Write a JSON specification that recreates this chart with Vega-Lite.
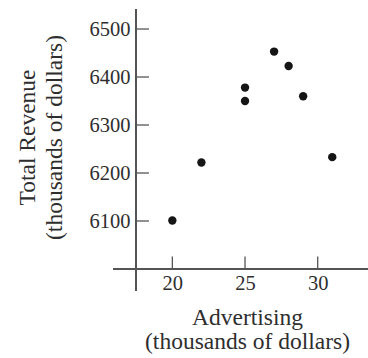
{
  "$schema": "https://vega.github.io/schema/vega-lite/v6.json",
  "width": 232,
  "height": 260,
  "autosize": {"type": "none"},
  "padding": {"left": 136, "top": 9, "right": 0, "bottom": 89},
  "config": {
    "view": {"stroke": null},
    "font": "Liberation Serif",
    "axis": {
      "grid": false,
      "domain": false,
      "ticks": false,
      "labelFont": "Liberation Serif",
      "labelFontSize": 20.5,
      "labelColor": "#2e2e2e",
      "titleFont": "Liberation Serif",
      "titleFontSize": 23.5,
      "titleFontWeight": "normal",
      "titleColor": "#2e2e2e"
    }
  },
  "datasets": {
    "points": [
      {"advertising": 20, "revenue": 6101},
      {"advertising": 22, "revenue": 6222},
      {"advertising": 25, "revenue": 6378},
      {"advertising": 25, "revenue": 6350},
      {"advertising": 27, "revenue": 6453},
      {"advertising": 28, "revenue": 6423},
      {"advertising": 29, "revenue": 6360},
      {"advertising": 31, "revenue": 6233}
    ],
    "xticks": [{"advertising": 20}, {"advertising": 25}, {"advertising": 30}],
    "yticks": [{"revenue": 6100}, {"revenue": 6200}, {"revenue": 6300}, {"revenue": 6400}, {"revenue": 6500}]
  },
  "layer": [
    {
      "data": {"name": "points"},
      "mark": {"type": "rule", "color": "#555555", "strokeWidth": 1.3},
      "encoding": {
        "x": {"datum": 15.92, "type": "quantitative"},
        "x2": {"datum": 33.46},
        "y": {"datum": 6000, "type": "quantitative"}
      }
    },
    {
      "data": {"name": "points"},
      "mark": {"type": "rule", "color": "#555555", "strokeWidth": 1.3},
      "encoding": {
        "x": {"datum": 17.5, "type": "quantitative"},
        "y": {"datum": 5955, "type": "quantitative"},
        "y2": {"datum": 6541.7}
      }
    },
    {
      "data": {"name": "xticks"},
      "mark": {"type": "rule", "color": "#555555", "strokeWidth": 1.3},
      "encoding": {
        "x": {"field": "advertising", "type": "quantitative"},
        "y": {"datum": 6000, "type": "quantitative"},
        "y2": {"datum": 6026}
      }
    },
    {
      "data": {"name": "yticks"},
      "mark": {"type": "rule", "color": "#555555", "strokeWidth": 1.3},
      "encoding": {
        "y": {"field": "revenue", "type": "quantitative"},
        "x": {"datum": 17.5, "type": "quantitative"},
        "x2": {"datum": 18.39}
      }
    },
    {
      "data": {"name": "points"},
      "mark": {"type": "point", "filled": true, "color": "#151515", "opacity": 1, "size": 70},
      "encoding": {
        "x": {
          "field": "advertising",
          "type": "quantitative",
          "scale": {"domain": [17.5, 33.46], "nice": false, "zero": false},
          "axis": {
            "values": [20, 25, 30],
            "format": "d",
            "labelPadding": 4,
            "title": ["Advertising", "(thousands of dollars)"],
            "titleX": 111,
            "titleY": 55.5,
            "titleBaseline": "alphabetic",
            "titleLineHeight": 23.5
          }
        },
        "y": {
          "field": "revenue",
          "type": "quantitative",
          "scale": {"domain": [6000, 6541.7], "nice": false, "zero": false},
          "axis": {
            "values": [6100, 6200, 6300, 6400, 6500],
            "format": "d",
            "labelPadding": 6,
            "title": ["Total Revenue", "(thousands of dollars)"],
            "titleAngle": 270,
            "titleX": -102,
            "titleY": 128,
            "titleAlign": "center",
            "titleBaseline": "alphabetic",
            "titleLineHeight": 27
          }
        }
      }
    }
  ]
}
